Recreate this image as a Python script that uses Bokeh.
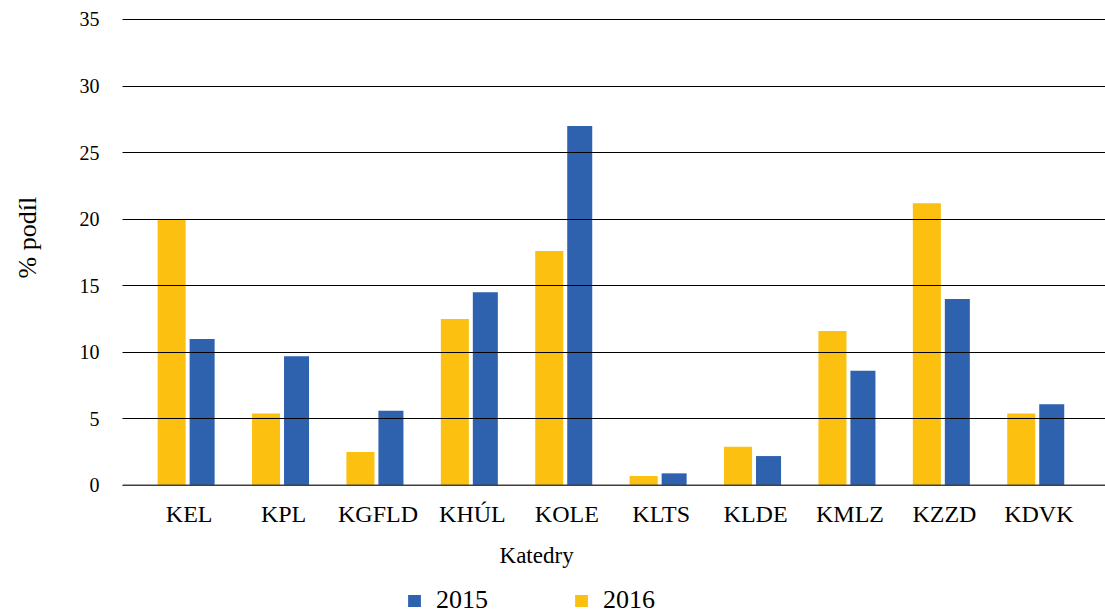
from bokeh.plotting import figure
from bokeh.models import (FactorRange, Range1d, Legend, LegendItem, FixedTicker,
                          Span, Label, Title)
from bokeh.core.properties import value
from bokeh.transform import dodge
from bokeh.embed import file_html
from bokeh.resources import INLINE

categories = ["KEL", "KPL", "KGFLD", "KHÚL", "KOLE", "KLTS", "KLDE", "KMLZ", "KZZD", "KDVK"]
values_2016 = [20.0, 5.4, 2.5, 12.5, 17.6, 0.7, 2.9, 11.6, 21.2, 5.4]
values_2015 = [11.0, 9.7, 5.6, 14.5, 27.0, 0.9, 2.2, 8.6, 14.0, 6.1]
y_ticks = [0, 5, 10, 15, 20, 25, 30, 35]

FONT = "Liberation Serif"
YELLOW = "#FCC010"
BLUE = "#2E61AE"

p = figure(
    width=1105, height=613,
    x_range=FactorRange(factors=categories, range_padding=0.0413, range_padding_units="percent"),
    y_range=Range1d(-9.63, 35.15),
    x_axis_location=None,
    output_backend="svg", toolbar_location=None,
    min_border_left=122, min_border_right=0, min_border_top=17, min_border_bottom=0,
)
p.outline_line_color = None
p.background_fill_color = "white"
p.border_fill_color = "white"

src = dict(cat=categories, v15=values_2015, v16=values_2016, zero=[0] * len(categories))
r16 = p.vbar(x=dodge("cat", -0.186, range=p.x_range), top="v16", width=0.297,
             source=src, fill_color=YELLOW, line_color=None)
r15 = p.vbar(x=dodge("cat", 0.137, range=p.x_range), top="v15", width=0.265,
             source=src, fill_color=BLUE, line_color=None)

# category labels under the zero line
p.text(x="cat", y="zero", text="cat", source=src, y_offset=29,
       text_align="center", text_baseline="alphabetic",
       text_font=value(FONT), text_font_size="24px", text_color="black")

# grid over bars
p.xgrid.grid_line_color = None
p.ygrid.grid_line_color = "black"
p.ygrid.grid_line_width = 1
p.ygrid.level = "overlay"
p.yaxis.ticker = FixedTicker(ticks=y_ticks)

# axis line at zero
p.add_layout(Span(location=0, dimension="width", line_color="#404040", line_width=1.5, level="overlay"))

# y axis
p.yaxis.axis_line_color = None
p.yaxis.major_tick_line_color = None
p.yaxis.minor_tick_line_color = None
p.yaxis.major_tick_out = 0
p.yaxis.major_label_standoff = 23
p.yaxis.major_label_text_font = FONT
p.yaxis.major_label_text_font_size = "20px"
p.yaxis.major_label_text_color = "black"

# y title (second blank line pushes the visible line outward)
ytitle = Title(text="% podíl\n\u00a0", align="left", offset=335, standoff=12,
               text_font=FONT, text_font_size="26px", text_font_style="normal",
               text_color="black")
p.add_layout(ytitle, "left")

# x axis title
p.add_layout(Label(x=4.18, y=-5.26, text="Katedry", text_align="center",
                   text_baseline="alphabetic", text_font=FONT,
                   text_font_size="23px", text_color="black"))

legend = Legend(
    items=[LegendItem(label="2015", renderers=[r15]),
           LegendItem(label="2016", renderers=[r16])],
    orientation="horizontal",
    location=(284, -2),
    glyph_width=16, glyph_height=15,
    label_standoff=14, spacing=85,
    label_text_font=FONT, label_text_font_size="26px", label_text_color="black",
    padding=0, margin=0,
    border_line_color=None, background_fill_alpha=0,
)
p.add_layout(legend, "center")

open("out.html", "w").write(file_html(p, INLINE))
